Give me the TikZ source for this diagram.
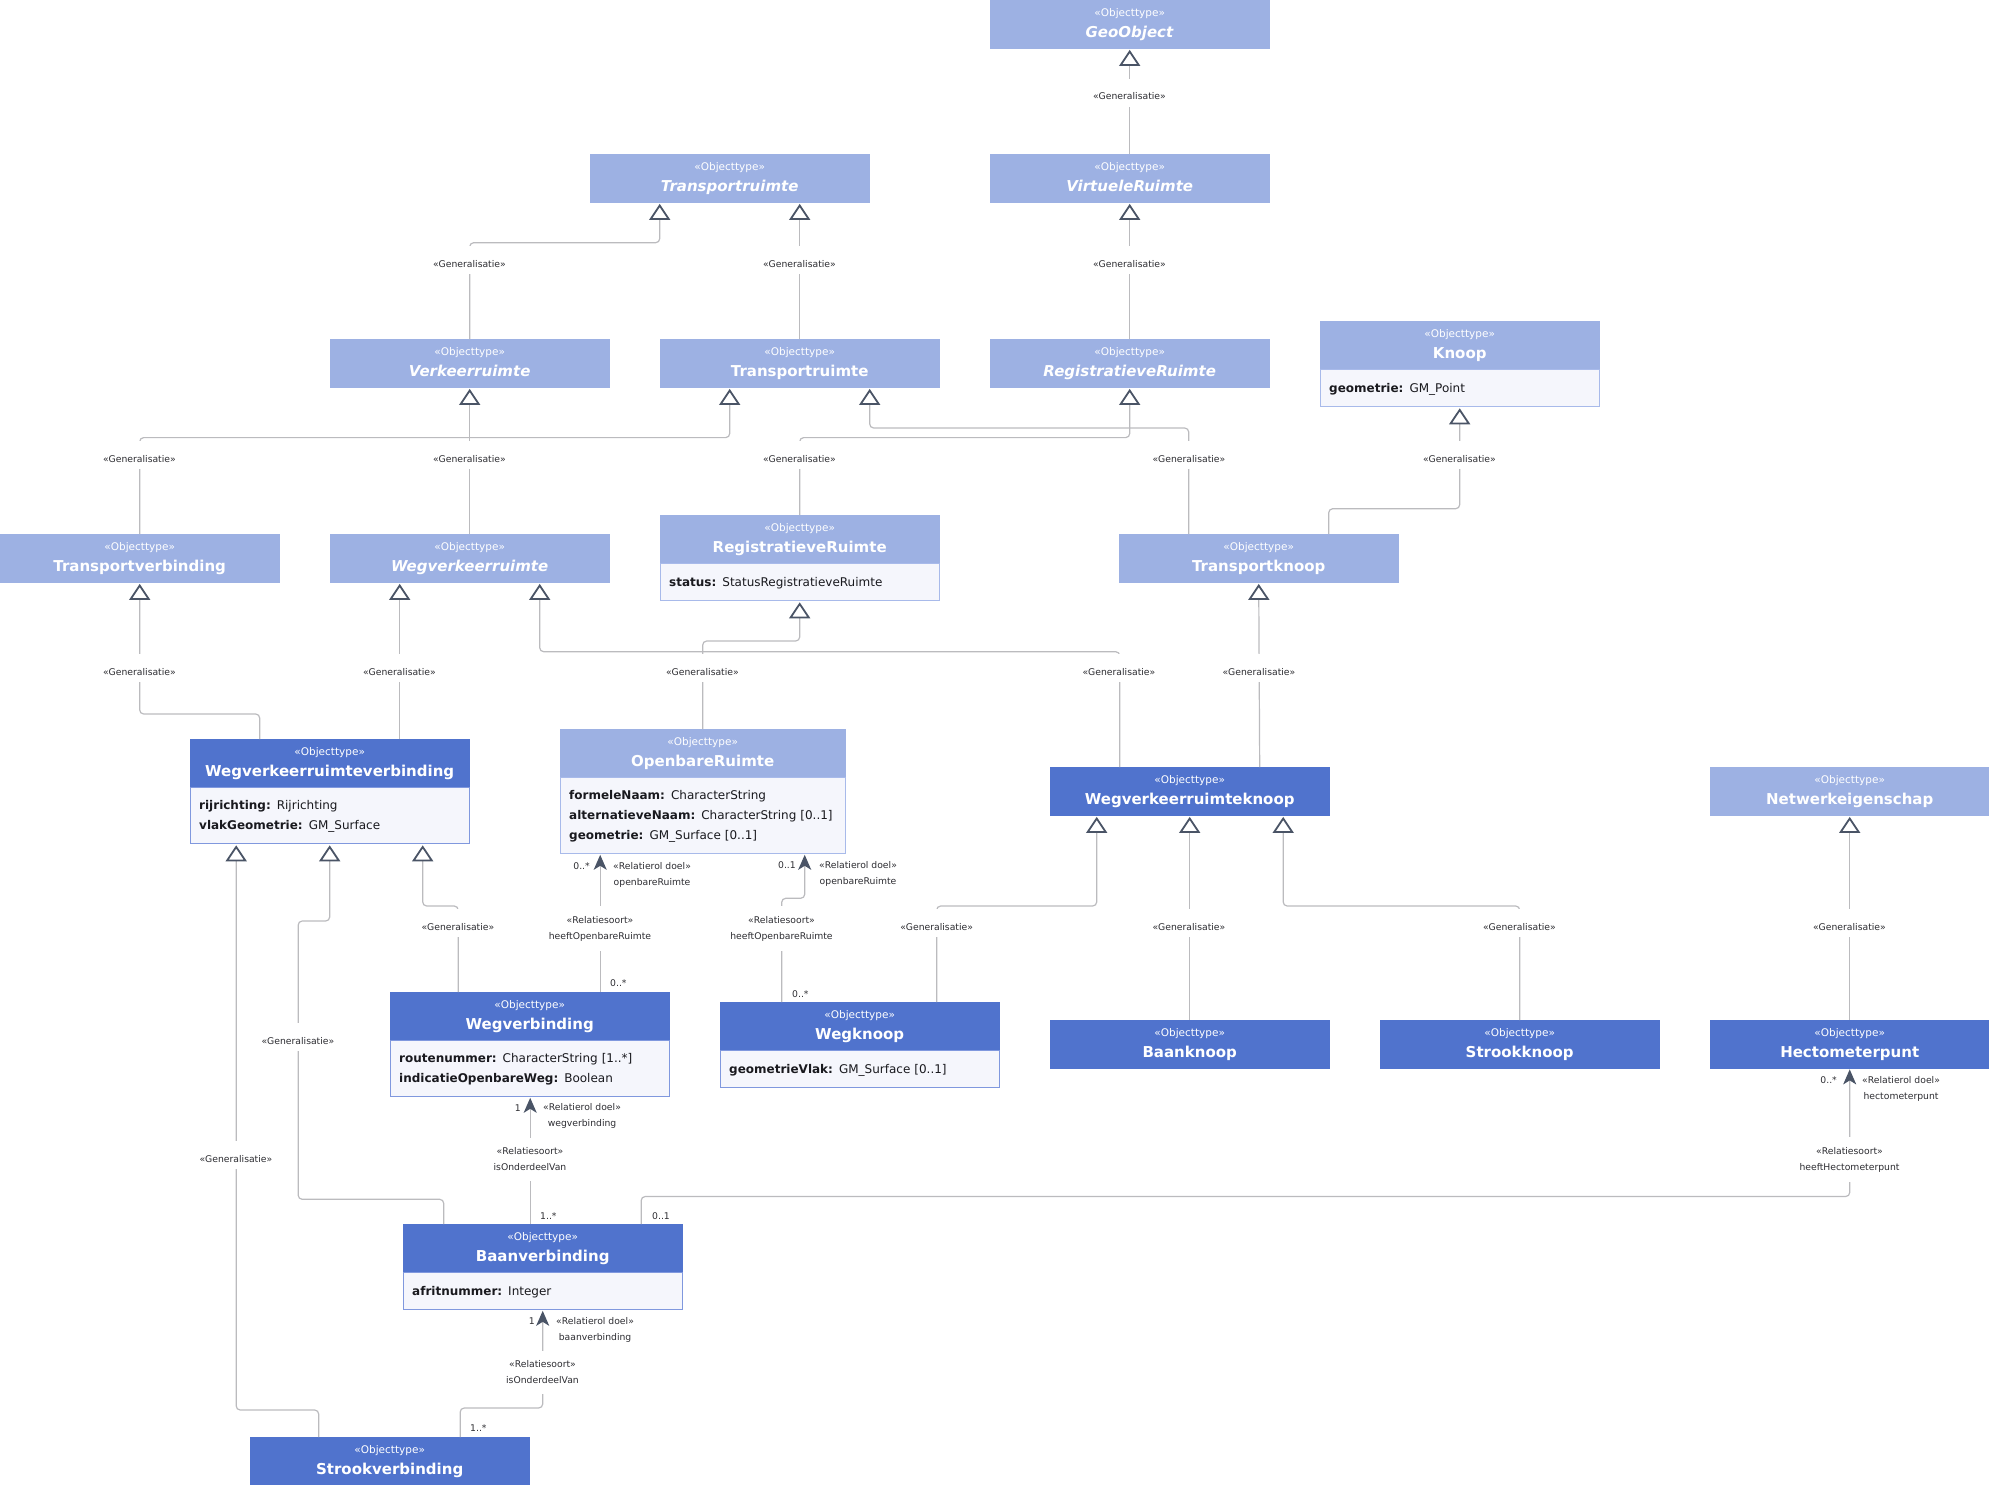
\documentclass[tikz,border=0pt]{standalone}
\usepackage{fontspec}
\setmainfont{DejaVu Sans}
\usetikzlibrary{arrows.meta, positioning}
\definecolor{hdrlight}{RGB}{157,177,227}
\definecolor{hdrdark}{RGB}{80,115,205}
\definecolor{attrbg}{RGB}{245,246,252}
\definecolor{edgelight}{RGB}{168,186,234}
\definecolor{edgedark}{RGB}{128,152,222}
\definecolor{linegray}{RGB}{187,187,190}
\definecolor{tipgray}{RGB}{74,84,102}
\definecolor{labgray}{RGB}{45,45,50}
\definecolor{attrtext}{RGB}{25,25,30}
\newcommand\stereo{{\fontsize{10.5}{12}\selectfont\mdseries «Objecttype»}}

\begin{document}
\begin{tikzpicture}[x=1pt, y=-1pt,
    hlight/.style={fill=hdrlight, draw=hdrlight, text=white, anchor=north west, minimum width=279pt, minimum height=48pt, inner sep=0pt, align=center, font=\fontsize{15}{21}\selectfont\bfseries, execute at end node={\vphantom{gj}}},
    hdark/.style={hlight, fill=hdrdark, draw=hdrdark},
    attrs/.style={fill=attrbg, draw=edgelight, text=attrtext, text width=261pt, inner xsep=9pt, inner ysep=0pt, align=left, font=\fontsize{12}{20}\selectfont, execute at begin node=\strut, execute at end node=\strut},
    attrsd/.style={attrs, draw=edgedark},
    gen/.style={draw=linegray, line width=1.2pt, rounded corners=4pt, shorten >=1.5pt, -{Triangle[open, color=tipgray, fill=white, width=21pt, length=16pt, line width=1.8pt]}},
    assoc/.style={draw=linegray, line width=1.2pt, rounded corners=4pt, shorten >=1pt, -{Stealth[color=tipgray, width=13pt, length=15pt, inset=4pt]}},
    glab/.style={fill=white, text=labgray, font=\fontsize{9.25}{16}\selectfont, inner xsep=2pt, inner ysep=0pt, text height=21pt, text depth=7pt, anchor=base, yshift=-4pt},
    rlab/.style={fill=white, text=labgray, font=\fontsize{9.25}{16}\selectfont, align=center, inner xsep=2pt, inner ysep=10pt},
    role/.style={text=labgray, font=\fontsize{9.25}{16}\selectfont, align=center, inner sep=0pt, anchor=west},
    mult/.style={text=labgray, font=\fontsize{9.25}{16}\selectfont, inner sep=0pt}]
\useasboundingbox (0,0) rectangle (1989,1485);

\node[hlight] (geo) at (990,0) {\stereo\\\textit{GeoObject}};
\node[hlight] (trA) at (590,154) {\stereo\\\textit{Transportruimte}};
\node[hlight] (virt) at (990,154) {\stereo\\\textit{VirtueleRuimte}};
\node[hlight] (verk) at (330,339) {\stereo\\\textit{Verkeerruimte}};
\node[hlight] (tr) at (660,339) {\stereo\\Transportruimte};
\node[hlight] (regA) at (990,339) {\stereo\\\textit{RegistratieveRuimte}};
\node[hlight] (knoop) at (1320,321) {\stereo\\Knoop};
\node[attrs, minimum height=37pt, below=0pt of knoop] (knoopA) {\textbf{geometrie:} GM\_Point};
\node[hlight] (trv) at (0,534) {\stereo\\Transportverbinding};
\node[hlight] (wvr) at (330,534) {\stereo\\\textit{Wegverkeerruimte}};
\node[hlight] (regT) at (660,515) {\stereo\\RegistratieveRuimte};
\node[attrs, minimum height=37pt, below=0pt of regT] (regTA) {\textbf{status:} StatusRegistratieveRuimte};
\node[hlight] (trk) at (1119,534) {\stereo\\Transportknoop};
\node[hdark] (wvrv) at (190,739) {\stereo\\Wegverkeerruimteverbinding};
\node[attrsd, minimum height=56pt, below=0pt of wvrv] (wvrvA) {\textbf{rijrichting:} Rijrichting\\\textbf{vlakGeometrie:} GM\_Surface};
\node[hlight, minimum width=285pt] (opr) at (560,729) {\stereo\\OpenbareRuimte};
\node[attrs, text width=267pt, minimum height=76pt, below=0pt of opr] (oprA) {\textbf{formeleNaam:} CharacterString\\\textbf{alternatieveNaam:} CharacterString [0..1]\\\textbf{geometrie:} GM\_Surface [0..1]};
\node[hdark] (wvrk) at (1050,767) {\stereo\\Wegverkeerruimteknoop};
\node[hlight] (netw) at (1710,767) {\stereo\\Netwerkeigenschap};
\node[hdark] (wegv) at (390,992) {\stereo\\Wegverbinding};
\node[attrsd, minimum height=56pt, below=0pt of wegv] (wegvA) {\textbf{routenummer:} CharacterString [1..*]\\\textbf{indicatieOpenbareWeg:} Boolean};
\node[hdark] (wegk) at (720,1002) {\stereo\\Wegknoop};
\node[attrsd, minimum height=37pt, below=0pt of wegk] (wegkA) {\textbf{geometrieVlak:} GM\_Surface [0..1]};
\node[hdark] (baank) at (1050,1020) {\stereo\\Baanknoop};
\node[hdark] (strk) at (1380,1020) {\stereo\\Strookknoop};
\node[hdark] (hecto) at (1710,1020) {\stereo\\Hectometerpunt};
\node[hdark] (baanv) at (403,1224) {\stereo\\Baanverbinding};
\node[attrsd, minimum height=37pt, below=0pt of baanv] (baanvA) {\textbf{afritnummer:} Integer};
\node[hdark] (strv) at (250,1437) {\stereo\\Strookverbinding};

\draw[gen] (virt.north) -- (geo.south);
\draw[gen] (verk.north) -- ++(0,-96.3) -| ([xshift=-70pt]trA.south);
\draw[gen] (tr.north) -- ([xshift=70pt]trA.south);
\draw[gen] (regA.north) -- (virt.south);
\draw[gen] (trv.north) -- ++(0,-96.4) -| ([xshift=-70pt]tr.south);
\draw[gen] (wvr.north) -- (verk.south);
\draw[gen] ([xshift=-70pt]trk.north) -- ++(0,-106) -| ([xshift=70pt]tr.south);
\draw[gen] (regT.north) -- ++(0,-77.4) -| (regA.south);
\draw[gen] ([xshift=70pt]trk.north) -- ++(0,-25.3) -| (knoopA.south);
\draw[gen] ([xshift=-70pt]wvrv.north) -- ++(0,-25) -| (trv.south);
\draw[gen] ([xshift=70pt]wvrv.north) -- ([xshift=-70pt]wvr.south);
\draw[gen] ([xshift=-70pt]wvrk.north) -- ++(0,-115.3) -| ([xshift=70pt]wvr.south);
\draw[gen] (opr.north) -- ++(0,-88) -| (regTA.south);
\draw[gen] ([xshift=70pt]wvrk.north) -- (trk.south);
\draw[gen] ([xshift=-71.5pt]wegv.north) -- ++(0,-86) -| ([xshift=93pt]wvrvA.south);
\draw[gen] ([xshift=-99pt]baanv.north) -- ++(0,-24.7) -- ++(-145.5,0) -- ++(0,-278.3) -| (wvrvA.south);
\draw[gen] ([xshift=-71pt]strv.north) -- ++(0,-27) -| ([xshift=-93.5pt]wvrvA.south);
\draw[gen] ([xshift=77pt]wegk.north) -- ++(0,-96) -| ([xshift=-93pt]wvrk.south);
\draw[gen] (baank.north) -- (wvrk.south);
\draw[gen] (strk.north) -- ++(0,-114) -| ([xshift=93.5pt]wvrk.south);
\draw[gen] (hecto.north) -- (netw.south);

\draw[assoc] ([xshift=70.5pt]wegv.north) -- ([xshift=-102.5pt]oprA.south);
\draw[assoc] ([xshift=-78pt]wegk.north) -- ++(0,-103.7) -| ([xshift=102pt]oprA.south);
\draw[assoc] ([xshift=-12.5pt]baanv.north) -- ([xshift=0.5pt]wegvA.south);
\draw[assoc] ([xshift=98.5pt]baanv.north) -- ++(0,-27.5) -| (hecto.south);
\draw[assoc] ([xshift=70.5pt]strv.north) -- ++(0,-29) -| (baanvA.south);

\foreach \x/\y [count=\i] in {1129.5/96, 469.5/263, 799.5/263, 1129.5/263, 139.5/458, 469.5/458, 799.5/458, 1189/458, 1459.5/458, 139.5/671, 399.5/671, 702.5/671, 1119/671, 1259/671, 458/926, 936.7/926, 1189/926, 1519.5/926, 1849.5/926, 298/1040, 236/1158}
  \node[glab] (g\i) at (\x,\y) {«Generalisatie»};

\node[rlab] (rel1) at (600,928.5) {«Relatiesoort»\\heeftOpenbareRuimte};
\node[rlab] (rel2) at (781.5,928.5) {«Relatiesoort»\\heeftOpenbareRuimte};
\node[rlab] (rel3) at (530,1159.5) {«Relatiesoort»\\isOnderdeelVan};
\node[rlab] (rel4) at (1849.5,1159.5) {«Relatiesoort»\\heeftHectometerpunt};
\node[rlab] (rel5) at (542.5,1372.5) {«Relatiesoort»\\isOnderdeelVan};

\node[role] (role1) at (613,874.5) {«Relatierol doel»\\openbareRuimte};
\node[role] (role2) at (819,873.5) {«Relatierol doel»\\openbareRuimte};
\node[role] (role3) at (543,1115.5) {«Relatierol doel»\\wegverbinding};
\node[role] (role4) at (1862,1088.5) {«Relatierol doel»\\hectometerpunt};
\node[role] (role5) at (556,1329.5) {«Relatierol doel»\\baanverbinding};

\node[mult, anchor=east] (mn1) at (590,866) {0..*};
\node[mult, anchor=east] (mn2) at (796,865) {0..1};
\node[mult, anchor=east] (mn3) at (521,1108) {1};
\node[mult, anchor=east] (mn4) at (1837,1080) {0..*};
\node[mult, anchor=east] (mn5) at (535,1321) {1};
\node[mult, anchor=west] (mf1) at (610,983) {0..*};
\node[mult, anchor=west] (mf2) at (792,994) {0..*};
\node[mult, anchor=west] (mf3) at (540,1216) {1..*};
\node[mult, anchor=west] (mf4) at (652,1216) {0..1};
\node[mult, anchor=west] (mf5) at (470,1428) {1..*};
\end{tikzpicture}
\end{document}
